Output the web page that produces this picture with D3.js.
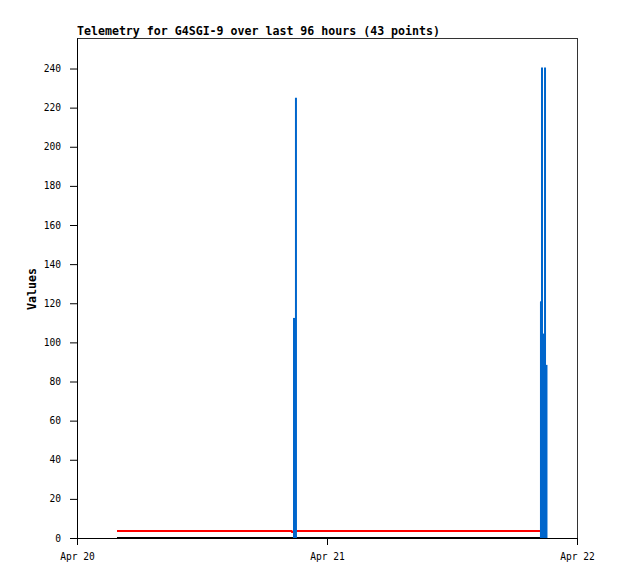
<!DOCTYPE html>
<html>
<head>
<meta charset="utf-8">
<script src="https://cdn.jsdelivr.net/npm/d3@7"></script>
<style>
  body { margin: 0; background: #fff; }
</style>
</head>
<body>
<svg id="chart" width="618" height="579"></svg>
<script>
// chart text
const chartTitle = "Telemetry for G4SGI-9 over last 96 hours (43 points)";
const yLabel = "Values";

// y ticks and x ticks (days)
const yTicks = [0, 20, 40, 60, 80, 100, 120, 140, 160, 180, 200, 220, 240];
const xTickDays = [20, 21, 22];

// series: [hours since Apr 20 00:00, value]
const blackSeries = [[3.84, 0], [45.12, 0]];
const redSeries = [[3.84, 3.6], [20.6, 3.6], [20.64, 3.1], [20.93, 3.1], [21.0, 3.6], [44.45, 3.6]];
const blueSeries = [[20.83, 112.5], [21.02, 225], [44.54, 121], [44.64, 240.5], [44.83, 104.5], [44.93, 240.5], [45.07, 88.5]];

const margin = { top: 38, right: 41, bottom: 41, left: 77 };
const width = 618 - margin.left - margin.right;
const height = 579 - margin.top - margin.bottom;

const base = new Date(2025, 3, 20);
const toDate = h => new Date(base.getTime() + h * 3600e3);

const svg = d3.select("#chart");
const g = svg.append("g").attr("transform", `translate(${margin.left},${margin.top})`);

const x = d3.scaleTime()
  .domain([new Date(2025, 3, 20), new Date(2025, 3, 22)])
  .range([0, width]);
const y = d3.scaleLinear()
  .domain([0, 255.6])
  .range([height, 0]);

const mono = "'DejaVu Sans Mono', 'Liberation Mono', monospace";

// frame (top and right sides)
g.append("rect")
  .attr("x", 0.5).attr("y", 0.5)
  .attr("width", width).attr("height", height)
  .attr("fill", "none")
  .attr("stroke", "#333");

// y axis
const yAxis = g.append("g")
  .call(d3.axisLeft(y).tickValues(yTicks).tickSize(7).tickSizeOuter(0).tickPadding(9));
yAxis.select(".domain").attr("stroke", "#000");
yAxis.selectAll("text").attr("font-family", mono).attr("font-size", "9.6px").attr("fill", "#000");

// x axis
const xAxis = g.append("g")
  .attr("transform", `translate(0,${height})`)
  .call(d3.axisBottom(x)
    .tickValues(xTickDays.map(d => new Date(2025, 3, d)))
    .tickFormat(d3.timeFormat("%b %d"))
    .tickSize(7).tickSizeOuter(0).tickPadding(8));
xAxis.select(".domain").attr("stroke", "#000");
xAxis.selectAll("text").attr("font-family", mono).attr("font-size", "9.6px").attr("fill", "#000");

// series lines
const line = d3.line()
  .x(d => x(toDate(d[0])))
  .y(d => y(d[1]));

g.append("path")
  .datum(blackSeries)
  .attr("d", line)
  .attr("fill", "none")
  .attr("stroke", "#000")
  .attr("stroke-width", 2);

g.append("path")
  .datum(redSeries)
  .attr("d", line)
  .attr("fill", "none")
  .attr("stroke", "#ff0000")
  .attr("stroke-width", 2);

// blue impulses
g.selectAll("line.impulse")
  .data(blueSeries)
  .join("line")
  .attr("class", "impulse")
  .attr("x1", d => x(toDate(d[0])))
  .attr("x2", d => x(toDate(d[0])))
  .attr("y1", y(0))
  .attr("y2", d => y(d[1]))
  .attr("stroke", "#0066cc")
  .attr("stroke-width", 2);

// title
svg.append("text")
  .attr("x", margin.left)
  .attr("y", 35)
  .attr("font-family", mono)
  .attr("font-weight", "bold")
  .attr("font-size", "11.6px")
  .text(chartTitle);

// y label
svg.append("text")
  .attr("transform", "translate(36,289) rotate(-90)")
  .attr("text-anchor", "middle")
  .attr("font-family", mono)
  .attr("font-weight", "bold")
  .attr("font-size", "11.6px")
  .text(yLabel);
</script>
</body>
</html>
